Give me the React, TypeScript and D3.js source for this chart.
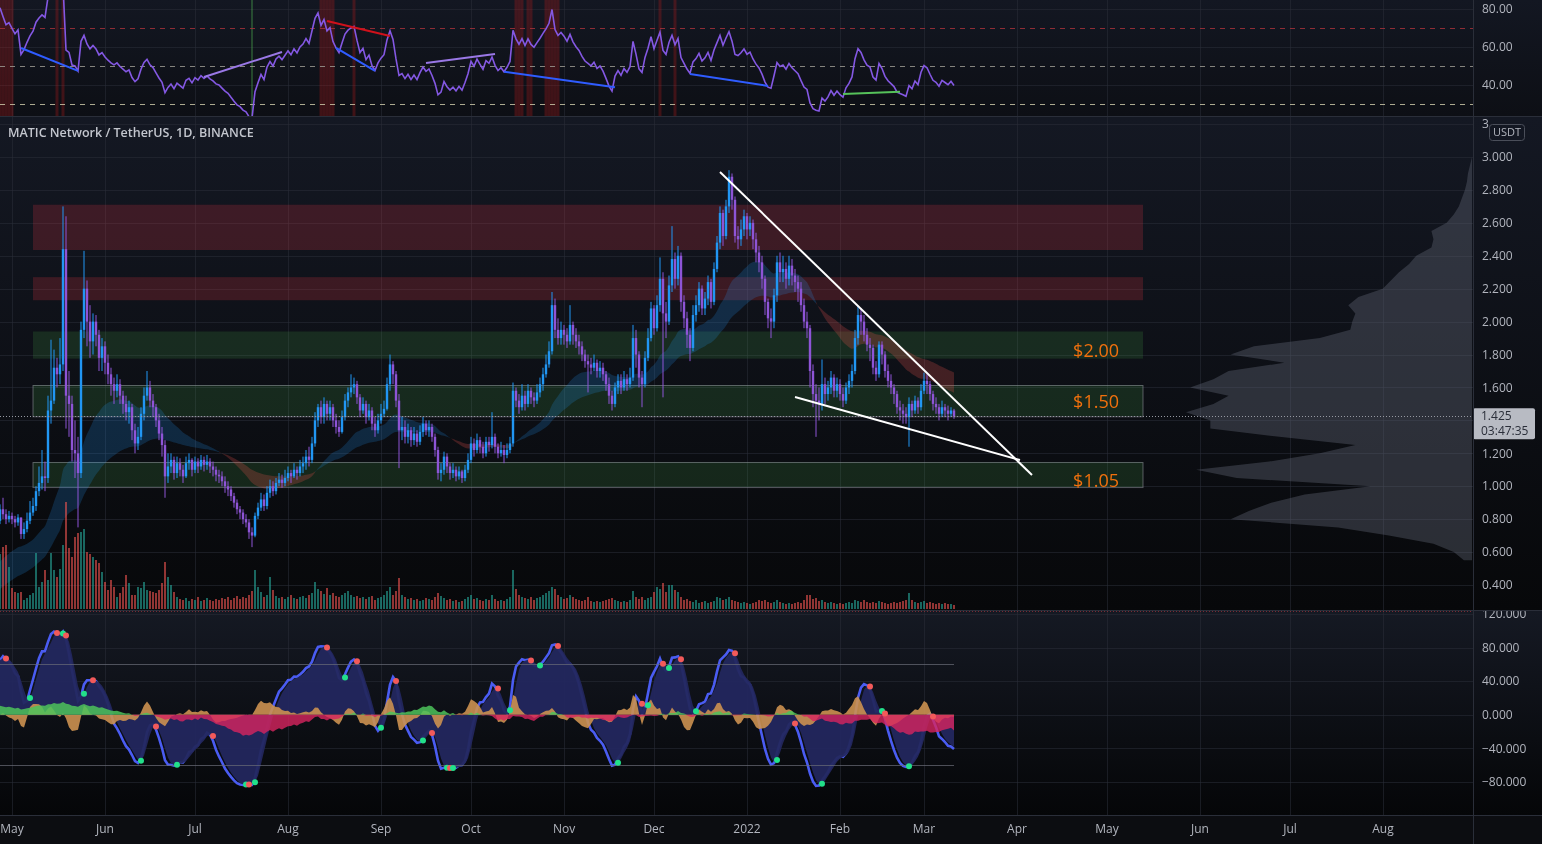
import React, { useMemo } from 'react';
import * as d3 from 'd3';

const W = 1542;
const H = 844;
const DAY = 86400000;

// ---- MATICUSDT 1D candles, first bar 2021-04-27 (open of a bar = previous close) ----
const firstBar = '2021-04-27';
const firstOpen = 0.79;

const closes = [
  0.86, 0.83, 0.80, 0.82, 0.80, 0.78, 0.81, 0.71, 0.74, 0.79, // Apr 27
  0.84, 0.88, 0.97, 1.02, 1.06, 1.05, 1.46, 1.52, 1.72, 1.68, // May 7
  1.74, 2.44, 1.55, 1.50, 1.22, 1.20, 1.08, 1.95, 2.20, 2.00, // May 17
  1.88, 2.00, 1.92, 1.78, 1.85, 1.75, 1.68, 1.62, 1.58, 1.62, // May 27
  1.55, 1.50, 1.45, 1.48, 1.34, 1.26, 1.30, 1.44, 1.55, 1.60, // Jun 6
  1.52, 1.48, 1.40, 1.32, 1.25, 1.06, 1.12, 1.16, 1.08, 1.14, // Jun 16
  1.10, 1.06, 1.14, 1.16, 1.10, 1.15, 1.12, 1.16, 1.13, 1.15, // Jun 26
  1.12, 1.10, 1.07, 1.06, 1.03, 1.00, 0.98, 0.94, 0.90, 0.86, // Jul 6
  0.84, 0.80, 0.78, 0.72, 0.70, 0.82, 0.87, 0.92, 0.88, 0.96, // Jul 16
  1.00, 0.97, 1.02, 1.04, 1.02, 1.05, 1.08, 1.06, 1.10, 1.08, // Jul 26
  1.12, 1.14, 1.18, 1.16, 1.26, 1.40, 1.48, 1.42, 1.50, 1.44, // Aug 5
  1.48, 1.40, 1.36, 1.33, 1.42, 1.52, 1.57, 1.60, 1.62, 1.54, // Aug 15
  1.46, 1.50, 1.42, 1.46, 1.38, 1.34, 1.40, 1.44, 1.47, 1.62, // Aug 25
  1.74, 1.68, 1.52, 1.34, 1.36, 1.30, 1.34, 1.28, 1.32, 1.27, // Sep 4
  1.33, 1.38, 1.34, 1.36, 1.30, 1.22, 1.08, 1.10, 1.18, 1.12, // Sep 14
  1.08, 1.10, 1.06, 1.09, 1.05, 1.10, 1.16, 1.26, 1.22, 1.28, // Sep 24
  1.24, 1.20, 1.27, 1.25, 1.30, 1.24, 1.20, 1.22, 1.19, 1.22, // Oct 4
  1.26, 1.58, 1.52, 1.48, 1.55, 1.50, 1.58, 1.54, 1.52, 1.57, // Oct 14
  1.62, 1.68, 1.74, 1.82, 2.10, 1.95, 1.90, 1.95, 1.92, 1.88, // Oct 24
  1.98, 1.92, 1.88, 1.85, 1.80, 1.76, 1.74, 1.72, 1.75, 1.70, // Nov 3
  1.72, 1.68, 1.62, 1.55, 1.50, 1.60, 1.64, 1.60, 1.65, 1.62, // Nov 13
  1.66, 1.90, 1.80, 1.66, 1.62, 1.78, 1.90, 2.08, 1.96, 2.10, // Nov 23
  2.26, 2.05, 2.00, 2.22, 2.38, 2.26, 2.40, 2.12, 2.02, 1.92, // Dec 3
  1.84, 2.04, 2.10, 2.20, 2.08, 2.14, 2.24, 2.12, 2.32, 2.48, // Dec 13
  2.66, 2.52, 2.70, 2.88, 2.74, 2.52, 2.50, 2.56, 2.64, 2.56, // Dec 23
  2.60, 2.50, 2.42, 2.36, 2.26, 2.12, 2.02, 2.00, 2.16, 2.36, // Jan 2
  2.30, 2.32, 2.26, 2.34, 2.28, 2.24, 2.20, 2.10, 2.00, 1.96, // Jan 12
  1.70, 1.56, 1.52, 1.50, 1.62, 1.56, 1.60, 1.66, 1.58, 1.62, // Jan 22
  1.56, 1.52, 1.60, 1.64, 1.70, 1.90, 2.04, 2.00, 1.92, 1.86, // Feb 1
  1.84, 1.72, 1.68, 1.86, 1.80, 1.70, 1.64, 1.60, 1.56, 1.48, // Feb 11
  1.46, 1.44, 1.42, 1.50, 1.46, 1.52, 1.48, 1.58, 1.64, 1.62, // Feb 21
  1.56, 1.50, 1.48, 1.44, 1.48, 1.46, 1.44, 1.46, 1.425, // Mar 3
];

const highs = [
  0.89, 0.93, 0.86, 0.85, 0.84, 0.82, 0.83, 0.81, 0.78, 0.84,
  0.91, 0.93, 1.00, 1.12, 1.22, 1.15, 1.55, 1.89, 1.83, 1.78,
  1.90, 2.70, 2.64, 1.70, 1.55, 1.40, 1.30, 2.00, 2.43, 2.25,
  2.10, 2.05, 2.04, 1.95, 1.90, 1.88, 1.80, 1.72, 1.66, 1.68,
  1.65, 1.58, 1.55, 1.52, 1.50, 1.38, 1.36, 1.48, 1.60, 1.70,
  1.64, 1.56, 1.50, 1.44, 1.36, 1.28, 1.20, 1.20, 1.18, 1.18,
  1.17, 1.13, 1.18, 1.20, 1.17, 1.18, 1.17, 1.19, 1.18, 1.19,
  1.17, 1.15, 1.12, 1.10, 1.09, 1.06, 1.03, 1.00, 0.96, 0.92,
  0.88, 0.86, 0.83, 0.80, 0.75, 0.84, 0.90, 0.96, 0.95, 1.00,
  1.04, 1.03, 1.05, 1.08, 1.07, 1.10, 1.12, 1.10, 1.14, 1.12,
  1.16, 1.18, 1.22, 1.24, 1.30, 1.45, 1.50, 1.52, 1.54, 1.52,
  1.52, 1.50, 1.44, 1.40, 1.46, 1.56, 1.60, 1.68, 1.66, 1.64,
  1.56, 1.54, 1.52, 1.50, 1.48, 1.42, 1.44, 1.50, 1.52, 1.66,
  1.80, 1.76, 1.70, 1.56, 1.42, 1.40, 1.38, 1.36, 1.36, 1.34,
  1.37, 1.42, 1.40, 1.40, 1.38, 1.32, 1.24, 1.14, 1.21, 1.20,
  1.14, 1.14, 1.12, 1.12, 1.10, 1.13, 1.20, 1.30, 1.29, 1.32,
  1.30, 1.27, 1.30, 1.30, 1.45, 1.32, 1.26, 1.27, 1.25, 1.26,
  1.30, 1.63, 1.60, 1.56, 1.62, 1.58, 1.62, 1.60, 1.57, 1.62,
  1.66, 1.72, 1.80, 1.88, 2.18, 2.14, 2.02, 2.00, 1.98, 1.96,
  2.10, 2.00, 1.96, 1.92, 1.88, 1.83, 1.80, 1.78, 1.80, 1.77,
  1.76, 1.75, 1.70, 1.66, 1.58, 1.63, 1.68, 1.68, 1.70, 1.68,
  1.72, 1.98, 1.95, 1.82, 1.70, 1.82, 1.96, 2.12, 2.10, 2.16,
  2.39, 2.30, 2.12, 2.28, 2.58, 2.42, 2.46, 2.42, 2.16, 2.06,
  1.96, 2.10, 2.16, 2.24, 2.22, 2.18, 2.28, 2.26, 2.36, 2.52,
  2.70, 2.68, 2.74, 2.92, 2.90, 2.76, 2.58, 2.62, 2.68, 2.66,
  2.64, 2.62, 2.54, 2.46, 2.40, 2.28, 2.14, 2.08, 2.20, 2.40,
  2.42, 2.40, 2.36, 2.40, 2.38, 2.32, 2.28, 2.24, 2.14, 2.06,
  1.98, 1.74, 1.62, 1.60, 1.77, 1.66, 1.64, 1.70, 1.68, 1.66,
  1.65, 1.60, 1.63, 1.68, 1.74, 1.95, 2.10, 2.08, 2.04, 1.96,
  1.90, 1.86, 1.76, 1.88, 1.88, 1.82, 1.74, 1.68, 1.62, 1.58,
  1.52, 1.50, 1.48, 1.54, 1.52, 1.55, 1.54, 1.62, 1.69, 1.68,
  1.64, 1.58, 1.54, 1.50, 1.52, 1.50, 1.49, 1.48, 1.47,
];

const lows = [
  0.77, 0.80, 0.77, 0.78, 0.77, 0.75, 0.76, 0.68, 0.68, 0.72,
  0.77, 0.82, 0.85, 0.94, 0.98, 0.97, 1.02, 1.38, 1.50, 1.60,
  1.62, 1.70, 1.35, 1.30, 1.15, 1.05, 0.75, 1.05, 1.90, 1.85,
  1.78, 1.80, 1.85, 1.70, 1.70, 1.68, 1.62, 1.55, 1.50, 1.54,
  1.50, 1.44, 1.40, 1.38, 1.28, 1.20, 1.22, 1.28, 1.40, 1.52,
  1.48, 1.42, 1.36, 1.28, 1.18, 0.93, 1.02, 1.08, 1.04, 1.05,
  1.06, 1.02, 1.05, 1.10, 1.06, 1.08, 1.08, 1.10, 1.09, 1.10,
  1.08, 1.06, 1.03, 1.02, 1.00, 0.96, 0.94, 0.91, 0.87, 0.83,
  0.80, 0.77, 0.75, 0.68, 0.63, 0.69, 0.80, 0.85, 0.85, 0.86,
  0.93, 0.94, 0.95, 1.00, 0.99, 1.00, 1.03, 1.02, 1.05, 1.04,
  1.06, 1.08, 1.10, 1.12, 1.14, 1.24, 1.36, 1.38, 1.38, 1.40,
  1.40, 1.36, 1.32, 1.30, 1.32, 1.40, 1.48, 1.54, 1.56, 1.50,
  1.42, 1.44, 1.38, 1.40, 1.34, 1.30, 1.32, 1.38, 1.42, 1.46,
  1.58, 1.62, 1.48, 1.11, 1.28, 1.26, 1.26, 1.24, 1.25, 1.24,
  1.25, 1.30, 1.31, 1.30, 1.27, 1.18, 1.04, 1.03, 1.07, 1.08,
  1.04, 1.05, 1.03, 1.04, 1.02, 1.03, 1.08, 1.14, 1.18, 1.20,
  1.20, 1.17, 1.18, 1.21, 1.23, 1.20, 1.17, 1.18, 1.14, 1.17,
  1.20, 1.24, 1.48, 1.44, 1.46, 1.46, 1.48, 1.50, 1.48, 1.50,
  1.54, 1.58, 1.66, 1.72, 1.80, 1.90, 1.86, 1.86, 1.86, 1.84,
  1.86, 1.86, 1.84, 1.80, 1.76, 1.72, 1.57, 1.68, 1.70, 1.66,
  1.66, 1.64, 1.58, 1.50, 1.46, 1.48, 1.56, 1.56, 1.58, 1.58,
  1.60, 1.64, 1.72, 1.60, 1.48, 1.60, 1.76, 1.88, 1.92, 1.94,
  2.06, 1.54, 1.90, 1.98, 2.18, 2.20, 2.22, 2.06, 1.96, 1.84,
  1.76, 1.82, 2.00, 2.06, 2.04, 2.04, 2.10, 2.08, 2.10, 2.30,
  2.44, 2.46, 2.50, 2.66, 2.68, 2.48, 2.44, 2.46, 2.52, 2.50,
  2.52, 2.44, 2.36, 2.30, 2.20, 2.04, 1.96, 1.90, 1.96, 2.12,
  2.24, 2.24, 2.20, 2.22, 2.22, 2.18, 2.12, 2.06, 1.96, 1.90,
  1.60, 1.48, 1.30, 1.40, 1.46, 1.50, 1.52, 1.56, 1.54, 1.54,
  1.52, 1.48, 1.50, 1.56, 1.60, 1.68, 1.86, 1.92, 1.88, 1.82,
  1.76, 1.68, 1.64, 1.66, 1.74, 1.66, 1.60, 1.56, 1.50, 1.44,
  1.40, 1.38, 1.38, 1.24, 1.42, 1.44, 1.44, 1.46, 1.56, 1.56,
  1.52, 1.46, 1.44, 1.40, 1.42, 1.42, 1.40, 1.42, 1.41,
];

// relative daily volume
const volumes = [
  55, 62, 64, 42, 21, 17, 16, 17, 9, 11,
  14, 16, 56, 22, 27, 39, 29, 56, 39, 32,
  40, 64, 107, 61, 52, 72, 76, 77, 80, 57,
  55, 52, 49, 46, 37, 27, 19, 29, 22, 12,
  16, 22, 34, 26, 14, 14, 22, 21, 27, 19,
  18, 17, 16, 19, 26, 47, 32, 24, 17, 12,
  10, 9, 11, 8, 10, 9, 12, 8, 9, 11,
  9, 8, 10, 9, 11, 10, 12, 9, 11, 13,
  10, 12, 11, 14, 18, 39, 22, 17, 12, 14,
  32, 19, 13, 11, 12, 10, 12, 14, 11, 10,
  12, 13, 11, 14, 16, 27, 20, 18, 15, 21,
  14, 16, 13, 12, 14, 16, 18, 14, 12, 13,
  11, 12, 10, 12, 13, 9, 11, 12, 14, 18,
  22, 14, 18, 31, 14, 12, 10, 11, 9, 10,
  8, 9, 11, 10, 9, 12, 16, 13, 11, 9,
  10, 8, 9, 7, 8, 10, 12, 14, 10, 11,
  9, 8, 10, 9, 14, 10, 8, 9, 8, 10,
  12, 39, 20, 14, 12, 11, 10, 12, 9, 11,
  12, 14, 16, 18, 22, 20, 14, 12, 10, 11,
  14, 12, 10, 9, 8, 9, 12, 8, 7, 8,
  7, 8, 9, 10, 11, 9, 8, 7, 8, 7,
  9, 18, 12, 10, 12, 9, 11, 12, 17, 22,
  20, 26, 17, 24, 24, 19, 17, 12, 9, 10,
  8, 7, 9, 6, 7, 8, 6, 7, 8, 12,
  11, 9, 10, 12, 9, 8, 7, 6, 7, 6,
  5, 6, 7, 9, 8, 9, 7, 6, 7, 9,
  7, 6, 5, 6, 5, 6, 7, 6, 9, 14,
  14, 10, 11, 8, 9, 7, 6, 7, 6, 5,
  6, 5, 6, 7, 6, 9, 8, 7, 9, 7,
  6, 7, 6, 8, 7, 6, 5, 6, 7, 6,
  7, 8, 9, 16, 9, 7, 6, 7, 8, 6,
  7, 6, 5, 6, 5, 6, 5, 5, 4,
];

const rsiSeedGain = 0.028;
const rsiSeedLoss = 0.008;
const ribbonSeedFast = 0.52;
const ribbonSeedSlow = 0.36;
const wtSeedEsa = 0.7;
const wtSeedDev = 0.05;
const wtSeedValue = 55;
const mfiSeed = 12;

// ---- drawings ----
const zoneFrom = '2021-05-08';
const zoneTo = '2022-05-13';
const zoneTops = [2.71, 2.27, 1.94, 1.615, 1.147];
const zoneBottoms = [2.435, 2.13, 1.775, 1.425, 0.995];
const zoneKinds = ['resistance', 'resistance', 'support', 'support', 'support'];
const outlinedZones = [3, 4];

const zoneLabels = ['$2.00', '$1.50', '$1.05'];
const zoneLabelPrices = [1.785, 1.475, 0.995];
const zoneLabelDate = '2022-05-05';

const wedgeUpper: [string, number][] = [['2021-12-23', 2.909], ['2022-04-06', 1.068]];
const wedgeLower: [string, number][] = [['2022-01-17', 1.542], ['2022-04-02', 1.159]];

const lastPrice = 1.425;
const countdown = '03:47:35';
const title = 'MATIC Network / TetherUS, 1D, BINANCE';

// RSI divergence lines: from date, rsi, to date, rsi, kind
const rsiDivergences: [string, number, string, number, string][] = [
  ['2021-05-04', 59.5, '2021-05-23', 47.4, 'bull'],
  ['2021-07-04', 44.2, '2021-07-30', 57.4, 'hidden'],
  ['2021-08-14', 73.7, '2021-09-04', 65.8, 'bear'],
  ['2021-08-17', 59.5, '2021-08-30', 47.4, 'bull'],
  ['2021-09-16', 51.6, '2021-10-09', 56.3, 'hidden'],
  ['2021-10-12', 47.0, '2021-11-18', 38.8, 'bull'],
  ['2021-12-13', 45.8, '2022-01-08', 39.5, 'bull'],
  ['2022-02-02', 35.3, '2022-02-21', 36.5, 'hiddenBull'],
];
const rsiHotDays = [
  '2021-04-27', '2021-04-28', '2021-04-29', '2021-04-30', '2021-05-01', '2021-05-16', '2021-05-18',
  '2021-08-12', '2021-08-13', '2021-08-14', '2021-08-15', '2021-08-16', '2021-08-23',
  '2021-10-16', '2021-10-17', '2021-10-18', '2021-10-20', '2021-10-21',
  '2021-10-26', '2021-10-27', '2021-10-28', '2021-10-29', '2021-10-30', '2021-12-03', '2021-12-08',
];
const rsiColdDays = ['2021-07-20'];

// visible range volume profile
const profileLevels = [
  0.55, 0.60, 0.65, 0.70, 0.75, 0.80, 0.85, 0.90, 0.95, 1.00,
  1.05, 1.10, 1.15, 1.20, 1.25, 1.30, 1.35, 1.40, 1.45, 1.50,
  1.55, 1.60, 1.65, 1.70, 1.75, 1.80, 1.85, 1.90, 1.95, 2.00,
  2.05, 2.10, 2.15, 2.20, 2.25, 2.30, 2.35, 2.40, 2.45, 2.50,
  2.55, 2.60, 2.65, 2.70, 2.75, 2.80, 2.85, 2.90, 2.95, 3.00,
];
const profileVolumes = [
  8, 18, 38, 82, 132, 238, 220, 198, 165, 100,
  232, 272, 200, 150, 115, 190, 258, 258, 282, 255,
  240, 278, 255, 240, 185, 238, 215, 150, 120, 118,
  115, 122, 112, 88, 80, 72, 62, 55, 40, 38,
  40, 25, 18, 13, 10, 7, 5, 4, 2, 0,
];

const priceTicks = [3.2, 3.0, 2.8, 2.6, 2.4, 2.2, 2.0, 1.8, 1.6, 1.4, 1.2, 1.0, 0.8, 0.6, 0.4];
const rsiTicks = [80, 60, 40];
const rsiLevels = [70, 50, 30];
const wtTicks = [120, 80, 40, 0, -40, -80];
const wtLevels = [60, -60];

// ---- layout ----
const AXIS_X = 1473;
const RSI_TOP = 0;
const RSI_BOTTOM = 116;
const MAIN_TOP = 117;
const MAIN_BOTTOM = 610;
const WT_TOP = 611;
const WT_BOTTOM = 815;

const UP = '#2196f3';
const DOWN = '#8e54d6';
const TEXT = '#b2b5be';
const GRID = 'rgba(42,46,57,0.55)';
const FONT = "'Open Sans', 'Noto Sans', sans-serif";

const utc = (s: string) => new Date(s.length > 10 ? s : s + 'T00:00:00Z');

function ema(src: number[], len: number, seed: number) {
  const k = 2 / (len + 1);
  let p = seed;
  return src.map((v) => (p = p + k * (v - p)));
}

export default function App() {
  const m = useMemo(() => {
    const n = Math.min(closes.length, highs.length, lows.length, volumes.length);
    const t0 = utc(firstBar).getTime();
    const bars = d3.range(n).map((i) => {
      const open = i === 0 ? firstOpen : closes[i - 1];
      const close = closes[i];
      return {
        i,
        date: new Date(t0 + i * DAY),
        open,
        close,
        high: Math.max(highs[i], open, close),
        low: Math.min(lows[i], open, close),
        volume: volumes[i],
      };
    });

    // RSI 14 (Wilder)
    let g = rsiSeedGain;
    let l = rsiSeedLoss;
    const rsi = bars.map((b) => {
      const ch = b.close - b.open;
      g = (g * 13 + Math.max(ch, 0)) / 14;
      l = (l * 13 + Math.max(-ch, 0)) / 14;
      return 100 - 100 / (1 + g / l);
    });

    // EMA ribbon
    const cl = bars.map((b) => b.close);
    const fast = ema(cl, 30, ribbonSeedFast);
    const slow = ema(cl, 60, ribbonSeedSlow);

    // WaveTrend (channel 9, average 12, ma 3)
    let esa = wtSeedEsa;
    let de = wtSeedDev;
    let tci = wtSeedValue;
    const kc = 2 / 10;
    const ka = 2 / 13;
    const wt1 = bars.map((b) => {
      const ap = (b.high + b.low + b.close) / 3;
      esa += kc * (ap - esa);
      de += kc * (Math.abs(ap - esa) - de);
      const ci = (ap - esa) / (0.015 * de);
      tci += ka * (ci - tci);
      return tci;
    });
    const wt2 = wt1.map((_, i) => d3.mean(wt1.slice(Math.max(0, i - 2), i + 1)) as number);
    // RSI+MFI area: 60 bar mean of body / range, bars before the first one use the seed
    const mfiRaw = bars.map((b) => ((b.close - b.open) / Math.max(b.high - b.low, 1e-6)) * 150);
    const mfi = mfiRaw.map((_, i) => {
      const win = mfiRaw.slice(Math.max(0, i - 59), i + 1);
      const missing = 60 - win.length;
      return (d3.sum(win) + missing * mfiSeed) / 60 - 2.5;
    });
    const crosses: { i: number; v: number; bear: boolean }[] = [];
    for (let i = 1; i < n; i++) {
      const a = wt1[i - 1] - wt2[i - 1];
      const b = wt1[i] - wt2[i];
      if ((a >= 0) !== (b >= 0)) crosses.push({ i, v: wt2[i], bear: b < 0 });
    }

    return { bars, rsi, fast, slow, wt1, wt2, mfi, crosses };
  }, []);

  const x = d3
    .scaleUtc()
    .domain([utc('2021-05-01'), utc('2022-08-01')])
    .range([12, 1383]);
  const y = d3.scaleLinear().domain([0.4, 3.0]).range([585, 157]);
  const yR = d3.scaleLinear().domain([40, 80]).range([85, 9]);
  const yW = d3.scaleLinear().domain([-80, 120]).range([782, 614]);
  const yV = d3
    .scaleLinear()
    .domain([0, d3.max(volumes) as number])
    .range([MAIN_BOTTOM - 1, 502]);
  const wP = d3
    .scaleLinear()
    .domain([0, d3.max(profileVolumes) as number])
    .range([0, 286]);

  const { bars, rsi, fast, slow, wt1, wt2, mfi, crosses } = m;
  const bx = (i: number) => x(bars[i].date);

  const months = d3.utcMonth.range(utc('2021-05-01'), utc('2022-08-02'));
  const monthLabel = (d: Date) => (d.getUTCMonth() === 0 ? d3.utcFormat('%Y')(d) : d3.utcFormat('%b')(d));

  // ribbon segments (bullish / bearish)
  const segs: { bull: boolean; idx: number[] }[] = [];
  bars.forEach((_, i) => {
    const bull = fast[i] >= slow[i];
    const last = segs[segs.length - 1];
    if (!last || last.bull !== bull) segs.push({ bull, idx: i > 0 ? [i - 1, i] : [i] });
    else last.idx.push(i);
  });
  const ribbon = d3
    .area<number>()
    .x((i) => bx(i))
    .y0((i) => y(fast[i]))
    .y1((i) => y(slow[i]))
    .curve(d3.curveMonotoneX);

  const idx = bars.map((b) => b.i);
  const rsiLine = d3
    .line<number>()
    .x((i) => bx(i))
    .y((i) => yR(rsi[i]));
  const wt1Line = d3
    .line<number>()
    .x((i) => bx(i))
    .y((i) => yW(wt1[i]));
  const areaOf = (f: (i: number) => number) =>
    d3
      .area<number>()
      .x((i) => bx(i))
      .y0(yW(0))
      .y1((i) => yW(f(i)));

  // volume profile as a horizontal area hanging off the price axis
  const profileArea = d3
    .area<number>()
    .y((k) => y(profileLevels[k]))
    .x0(AXIS_X - 1)
    .x1((k) => AXIS_X - 1 - wP(profileVolumes[k]))
    .curve(d3.curveLinear);
  const pIdx = profileLevels.map((_, k) => k);

  const fmtP = d3.format('.3f');
  const fmtR = d3.format('.2f');
  const fmtW = d3.format('.3f');

  const lastY = y(lastPrice);
  const axisPriceTicks = priceTicks.filter((t) => Math.abs(y(t) - (lastY + 7)) > 20);

  const divColor: Record<string, string> = {
    bull: '#2f5cff',
    bear: '#d0111b',
    hidden: '#9a78e6',
    hiddenBull: '#56c25a',
  };

  const paneBg = (top: number, bottom: number, id: string) => (
    <rect x={0} y={top} width={W} height={bottom - top} fill={`url(#${id})`} />
  );

  return (
    <svg
      width={W}
      height={H}
      style={{ position: 'fixed', left: 0, top: 0, display: 'block' }}
      fontFamily={FONT}
    >
      <defs>
        <linearGradient id="gRsi" x1="0" y1="0" x2="0" y2="1">
          <stop offset="0" stopColor="#131722" />
          <stop offset="1" stopColor="#0d0f15" />
        </linearGradient>
        <linearGradient id="gMain" x1="0" y1="0" x2="0" y2="1">
          <stop offset="0" stopColor="#141823" />
          <stop offset="1" stopColor="#07080a" />
        </linearGradient>
        <linearGradient id="gWt" x1="0" y1="0" x2="0" y2="1">
          <stop offset="0" stopColor="#151923" />
          <stop offset="1" stopColor="#050608" />
        </linearGradient>
        <clipPath id="cRsi">
          <rect x={0} y={RSI_TOP} width={AXIS_X} height={RSI_BOTTOM - RSI_TOP} />
        </clipPath>
        <clipPath id="cMain">
          <rect x={0} y={MAIN_TOP} width={AXIS_X} height={MAIN_BOTTOM - MAIN_TOP} />
        </clipPath>
        <clipPath id="cWt">
          <rect x={0} y={WT_TOP} width={AXIS_X} height={WT_BOTTOM - WT_TOP} />
        </clipPath>
        <clipPath id="cMainAxis">
          <rect x={AXIS_X} y={MAIN_TOP} width={W - AXIS_X} height={MAIN_BOTTOM - MAIN_TOP} />
        </clipPath>
        <clipPath id="cTopTick">
          <rect x={AXIS_X} y={MAIN_TOP} width={1489 - AXIS_X} height={20} />
        </clipPath>
        <clipPath id="cWtAxis">
          <rect x={AXIS_X} y={WT_TOP} width={W - AXIS_X} height={WT_BOTTOM - WT_TOP} />
        </clipPath>
      </defs>

      {paneBg(RSI_TOP, RSI_BOTTOM, 'gRsi')}
      {paneBg(MAIN_TOP, MAIN_BOTTOM, 'gMain')}
      {paneBg(WT_TOP, WT_BOTTOM, 'gWt')}
      <rect x={0} y={WT_BOTTOM} width={W} height={H - WT_BOTTOM} fill="#0c0d11" />

      {/* vertical grid */}
      {months.map((d) => (
        <line key={+d} x1={x(d) + 0.5} x2={x(d) + 0.5} y1={0} y2={WT_BOTTOM} stroke={GRID} />
      ))}

      {/* ---------------- RSI pane ---------------- */}
      <g clipPath="url(#cRsi)">
        {rsiTicks.map((t) => (
          <line key={t} x1={0} x2={AXIS_X} y1={Math.round(yR(t)) + 0.5} y2={Math.round(yR(t)) + 0.5} stroke={GRID} />
        ))}
        {rsiHotDays.map((d) => (
          <rect key={d} x={x(utc(d)) - 1.5} y={RSI_TOP} width={3} height={RSI_BOTTOM - RSI_TOP} fill="#b71c1c" opacity={0.3} />
        ))}
        {rsiColdDays.map((d) => (
          <rect key={d} x={x(utc(d)) - 1} y={RSI_TOP} width={2} height={RSI_BOTTOM - RSI_TOP} fill="#4caf50" opacity={0.35} />
        ))}
        {rsiLevels.map((t, k) => (
          <line
            key={t}
            x1={0}
            x2={AXIS_X}
            y1={Math.round(yR(t)) + 0.5}
            y2={Math.round(yR(t)) + 0.5}
            stroke={k === 0 ? '#a3323a' : k === 1 ? '#9a9890' : '#c9c6a6'}
            strokeDasharray="5 5"
            opacity={0.85}
          />
        ))}
        <path d={rsiLine(idx) || ''} fill="none" stroke="#8458e3" strokeWidth={1.6} />
        {rsiDivergences.map(([a, ra, b, rb, kind], k) => (
          <line
            key={k}
            x1={x(utc(a))}
            y1={yR(ra)}
            x2={x(utc(b))}
            y2={yR(rb)}
            stroke={divColor[kind]}
            strokeWidth={2}
          />
        ))}
      </g>
      {rsiTicks.map((t) => (
        <text key={t} x={1482} y={yR(t)} dy="0.35em" fontSize={12} fill={TEXT}>
          {fmtR(t)}
        </text>
      ))}

      {/* ---------------- main pane ---------------- */}
      <g clipPath="url(#cMain)">
        {priceTicks.map((t) => (
          <line key={t} x1={0} x2={AXIS_X} y1={Math.round(y(t)) + 0.5} y2={Math.round(y(t)) + 0.5} stroke={GRID} />
        ))}

        {/* volume profile */}
        <path d={profileArea(pIdx) || ''} fill="#5f6373" opacity={0.4} />

        {/* zones */}
        {zoneTops.map((t, k) => (
          <rect
            key={k}
            x={x(utc(zoneFrom))}
            y={y(t)}
            width={x(utc(zoneTo)) - x(utc(zoneFrom))}
            height={y(zoneBottoms[k]) - y(t)}
            fill={zoneKinds[k] === 'resistance' ? '#f23645' : '#4caf50'}
            opacity={zoneKinds[k] === 'resistance' ? 0.2 : 0.17}
          />
        ))}
        {outlinedZones.map((k) => (
          <rect
            key={k}
            x={x(utc(zoneFrom))}
            y={y(zoneTops[k]) + 0.5}
            width={x(utc(zoneTo)) - x(utc(zoneFrom))}
            height={y(zoneBottoms[k]) - y(zoneTops[k])}
            fill="none"
            stroke="#9598a1"
            strokeOpacity={0.55}
          />
        ))}

        {/* EMA ribbon */}
        {segs.map((s, k) => (
          <path
            key={k}
            d={ribbon(s.idx) || ''}
            fill={s.bull ? '#2196f3' : '#ef5350'}
            opacity={s.bull ? 0.2 : 0.24}
          />
        ))}

        {/* volume */}
        {bars.map((b) => (
          <rect
            key={b.i}
            x={bx(b.i) - 1}
            y={yV(b.volume)}
            width={2}
            height={MAIN_BOTTOM - 1 - yV(b.volume)}
            fill={b.close >= b.open ? '#26a69a' : '#ef5350'}
            opacity={0.6}
          />
        ))}

        {/* candles */}
        {bars.map((b) => {
          const c = b.close >= b.open ? UP : DOWN;
          const cx = bx(b.i);
          const top = y(Math.max(b.open, b.close));
          const bot = y(Math.min(b.open, b.close));
          return (
            <g key={b.i} fill={c}>
              <rect x={cx - 0.5} y={y(b.high)} width={1} height={y(b.low) - y(b.high)} />
              <rect x={cx - 1.2} y={top} width={2.4} height={Math.max(1, bot - top)} />
            </g>
          );
        })}

        {/* last price line */}
        <line
          x1={0}
          x2={AXIS_X}
          y1={Math.round(lastY) + 0.5}
          y2={Math.round(lastY) + 0.5}
          stroke="#9598a1"
          strokeDasharray="1 2"
        />

        {/* falling wedge */}
        {[wedgeUpper, wedgeLower].map((l, k) => (
          <line
            key={k}
            x1={x(utc(l[0][0]))}
            y1={y(l[0][1])}
            x2={x(utc(l[1][0]))}
            y2={y(l[1][1])}
            stroke="#ffffff"
            strokeWidth={2}
          />
        ))}

        {zoneLabels.map((s, k) => (
          <text key={s} x={x(utc(zoneLabelDate))} y={y(zoneLabelPrices[k])} textAnchor="end" fontSize={18} fill="#f0700d">
            {s}
          </text>
        ))}

        <text x={8} y={137} fontSize={12.5} fill="#c3c6ce" fontWeight={600}>
          {title}
        </text>
      </g>

      <g clipPath="url(#cMainAxis)">
        {axisPriceTicks
          .filter((t) => t <= 3.0)
          .map((t) => (
            <text key={t} x={1482} y={y(t)} dy="0.35em" fontSize={12} fill={TEXT}>
              {fmtP(t)}
            </text>
          ))}
        <rect x={1489.5} y={124.5} width={35} height={16} rx={3} fill="#131722" stroke="#4a4e59" />
        <text x={1507} y={132.5} dy="0.35em" fontSize={11} textAnchor="middle" fill={TEXT}>
          USDT
        </text>
        <rect x={AXIS_X} y={lastY - 8} width={62} height={31} rx={2} fill="#b8bbc3" />
        <text x={1481} y={lastY} dy="0.35em" fontSize={12} fill="#2a2e39">
          {fmtP(lastPrice)}
        </text>
        <text x={1481} y={lastY + 15} dy="0.35em" fontSize={12} fill="#2a2e39">
          {countdown}
        </text>
      </g>
      {/* the 3.200 tick sits under the currency badge, only its first glyph shows */}
      <g clipPath="url(#cTopTick)">
        {axisPriceTicks
          .filter((t) => t > 3.0)
          .map((t) => (
            <text key={t} x={1482} y={y(t)} dy="0.35em" fontSize={12} fill={TEXT}>
              {fmtP(t)}
            </text>
          ))}
      </g>

      {/* ---------------- WaveTrend pane ---------------- */}
      <g clipPath="url(#cWt)">
        {wtTicks.map((t) => (
          <line key={t} x1={0} x2={AXIS_X} y1={Math.round(yW(t)) + 0.5} y2={Math.round(yW(t)) + 0.5} stroke={GRID} />
        ))}
        <line x1={0} x2={AXIS_X} y1={WT_TOP + 0.5} y2={WT_TOP + 0.5} stroke="#a3323a" strokeDasharray="1 2" opacity={0.7} />
        <path d={wt1Line(idx) || ''} fill="none" stroke="#4a5cf2" strokeWidth={2.6} />
        <path d={areaOf((i) => wt2[i])(idx) || ''} fill="#23275e" opacity={0.95} />
        {wtLevels.map((t) => (
          <line
            key={t}
            x1={0}
            x2={x(bars[bars.length - 1].date)}
            y1={Math.round(yW(t)) + 0.5}
            y2={Math.round(yW(t)) + 0.5}
            stroke="#6a6d78"
            opacity={0.7}
          />
        ))}
        <path d={areaOf((i) => wt1[i] - wt2[i])(idx) || ''} fill="#cc9150" opacity={0.9} />
        <path d={areaOf((i) => Math.max(mfi[i], 0))(idx) || ''} fill="#4cc35a" opacity={0.85} />
        <path d={areaOf((i) => Math.min(mfi[i], 0))(idx) || ''} fill="#d8245f" opacity={0.8} />
        {crosses.map((c) => (
          <circle key={c.i} cx={bx(c.i)} cy={yW(c.v)} r={3} fill={c.bear ? '#f25a5a' : '#22e08a'} />
        ))}
      </g>
      <g clipPath="url(#cWtAxis)">
        {wtTicks.map((t) => (
          <text key={t} x={1482} y={yW(t)} dy="0.35em" fontSize={12} fill={TEXT}>
            {fmtW(t)}
          </text>
        ))}
      </g>

      {/* separators */}
      <line x1={0} x2={W} y1={RSI_BOTTOM + 0.5} y2={RSI_BOTTOM + 0.5} stroke="#2a2e39" />
      <line x1={0} x2={W} y1={MAIN_BOTTOM + 0.5} y2={MAIN_BOTTOM + 0.5} stroke="#2a2e39" />
      <line x1={0} x2={W} y1={WT_BOTTOM + 0.5} y2={WT_BOTTOM + 0.5} stroke="#2a2e39" />
      <line x1={AXIS_X + 0.5} x2={AXIS_X + 0.5} y1={0} y2={H} stroke="#2a2e39" />

      {/* time axis */}
      {months.map((d) => (
        <text key={+d} x={x(d)} y={833} textAnchor="middle" fontSize={12} fill={TEXT}>
          {monthLabel(d)}
        </text>
      ))}
    </svg>
  );
}
